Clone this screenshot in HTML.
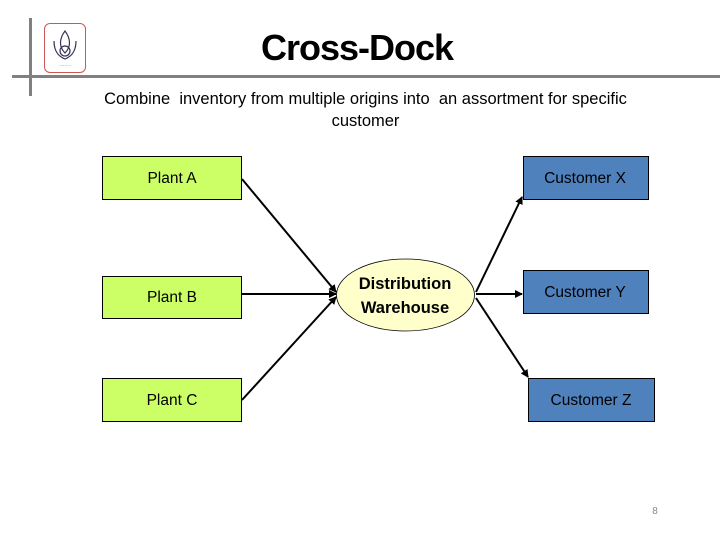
<!DOCTYPE html>
<html><head><style>
body{margin:0;width:720px;height:540px;background:#fff;position:relative;overflow:hidden;font-family:"Liberation Sans",sans-serif}
.t{position:absolute;white-space:nowrap}
</style></head><body>
<div style="position:absolute;left:29px;top:18px;width:3px;height:78px;background:#808080"></div>
<div style="position:absolute;left:12px;top:75px;width:708px;height:3px;background:#808080"></div>
<div style="position:absolute;left:44px;top:23px;width:40px;height:48px;border:1px solid #c55;border-radius:6px"></div>
<svg style="position:absolute;left:44px;top:23px" width="42" height="50"><g fill="none" stroke="#335" stroke-width="1.2"><path d="M21 8 C15 16 15 24 21 30 C27 24 27 16 21 8Z"/><path d="M10 18 C10 30 16 34 21 36 C26 34 32 30 32 18"/><circle cx="21" cy="28" r="5"/></g><text x="21" y="44" font-size="4" text-anchor="middle" fill="#335">·········</text></svg>
<div class="t" style="left:0;width:714px;top:27px;text-align:center;font-size:36px;font-weight:bold;letter-spacing:-1px">Cross-Dock</div>
<div class="t" style="left:0;width:731px;top:88px;text-align:center;font-size:16.5px;line-height:22px">Combine&nbsp; inventory from multiple origins into&nbsp; an assortment for specific<br>customer</div>
<svg style="position:absolute;left:0;top:0" width="720" height="540">
<defs><marker id="a" markerWidth="8" markerHeight="8" refX="7" refY="4" orient="auto" markerUnits="userSpaceOnUse"><path d="M0,0 L8,4 L0,8Z" fill="#000"/></marker></defs>
<g stroke="#000" stroke-width="1" fill="#ccff66">
<rect x="102.5" y="156.5" width="139" height="43"/>
<rect x="102.5" y="276.5" width="139" height="42"/>
<rect x="102.5" y="378.5" width="139" height="43"/>
</g>
<g stroke="#000" stroke-width="1" fill="#4f81bd">
<rect x="523.5" y="156.5" width="125" height="43"/>
<rect x="523.5" y="270.5" width="125" height="43"/>
<rect x="528.5" y="378.5" width="126" height="43"/>
</g>
<ellipse cx="405.5" cy="295" rx="69" ry="36" fill="#ffffcc" stroke="#000" stroke-width="0.8"/>
<g stroke="#000" stroke-width="2" marker-end="url(#a)">
<line x1="242" y1="179" x2="336" y2="292"/>
<line x1="242" y1="294" x2="336" y2="294"/>
<line x1="242" y1="400" x2="336" y2="297"/>
<line x1="476" y1="292" x2="522" y2="197"/>
<line x1="476" y1="294" x2="522" y2="294"/>
<line x1="476" y1="298" x2="528" y2="377"/>
</g>
<g font-family="Liberation Sans,sans-serif" font-size="15.5" text-anchor="middle">
<text x="172" y="183">Plant A</text>
<text x="172" y="302">Plant B</text>
<text x="172" y="405">Plant C</text>
<text x="585" y="183">Customer X</text>
<text x="585" y="297">Customer Y</text>
<text x="591" y="405">Customer Z</text>
<text x="405" y="289" font-size="16.5" font-weight="bold">Distribution</text>
<text x="405" y="313" font-size="16.5" font-weight="bold">Warehouse</text>
<text x="655" y="514" font-size="10" fill="#888">8</text>
</g>
</svg>
</body></html>
